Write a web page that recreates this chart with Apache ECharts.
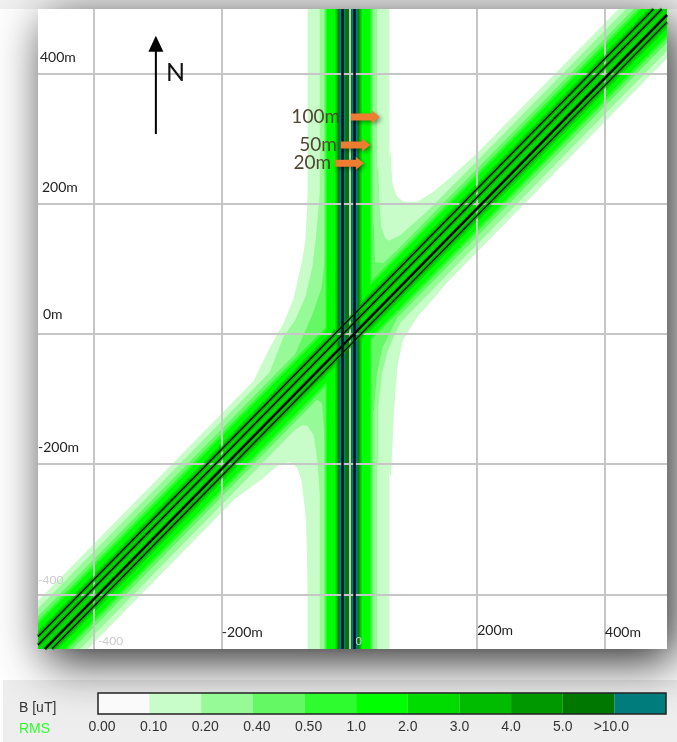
<!DOCTYPE html>
<html>
<head>
<meta charset="utf-8">
<title>B field</title>
<script src="https://cdn.jsdelivr.net/npm/echarts@6/dist/echarts.min.js"></script>
<style>
body { margin: 0; background: #fff; }
#main { width: 677px; height: 742px; }
</style>
</head>
<body>
<div id="main"></div>
<script>
// tick values in metres and the labels pasted on the map
const xTicks = [-400, -200, 0, 200, 400];
const xTickLabels = ['{f|-400}', '{m|-200m}', '{z|0}', '{h|200m}', '{m|400m}'];
const yTicks = [-400, -200, 0, 200, 400];
const yTickLabels = ['{f|-400}', '{d|-200m}', '{c|0m}', '{b|200m}', '{a|400m}'];
const xRange = [-487.5, 497];
const yRange = [-483.7, 499];

// colour scale
const legendLabels = ['{s|0.00}', '{s|0.10}', '{s|0.20}', '{s|0.40}', '{s|0.50}', '1.0', '2.0', '3.0', '4.0', '5.0', '{e|>10.0}'];
const legendColors = ['#fafafa', '#c8fcc8', '#96fa96', '#64f864', '#2efc2e', '#00ff00', '#00dc00', '#00bc00', '#009800', '#007800', '#007c7c'];

// half width of each contour band (m), one entry per colour from 0.10 up
const northLineWidths = [64, 45, 38, 36, 34, 21, 19, 17.5, 16, 14.5];
const diagLineWidths = [76, 64, 52, 45, 40, 30, 0, 0, 0, 0];
const diagOffset = 2;
const northOffset = -1.5;

// conductors, x offset for the N-S line and y offset for the diagonal one (m)
const northConductors = [-9.4, 9.4];
const diagConductors = [21, 8, -9, -20];
const diagConductorWidths = [1.1, 1.3, 2.2, 1.1];
const northCore = 5;

// contour outlines where the two corridors merge (m)
const paleFillets = [
  [[64, 282], [67, 233], [73, 213], [84, 203], [106, 203], [131, 218], [153, 236], [194, 272]],
  [[-65, -400], [-68, -286], [-75, -225], [-82, -205], [-93, -197], [-108, -199], [-140, -225], [-182, -255], [-194, -268]],
  [[-65, 220], [-69, 144], [-74, 113], [-80, 87], [-88, 52], [-103, 17], [-124, -20], [-150, -72]],
  [[65, -220], [69, -132], [72, -86], [76, -44], [84, -9], [106, 26], [127, 49], [150, 76]]
];
const midFillets = [
  [[45, 260], [47, 198], [50, 164], [56, 147], [62, 143], [80, 152], [128, 194], [174, 240]],
  [[-45, -260], [-51, -188], [-56, -155], [-66, -141], [-74, -140], [-90, -150], [-150, -198], [-176, -238]],
  [[-45, 230], [-53, 144], [-58, 103], [-69, 57], [-85, 21], [-103, -4], [-125, -59]],
  [[45, -200], [45, -112], [51, -60], [59, -29], [69, -5], [84, 26], [106, 47], [125, 63]]
];
const brightFillets = [
  [[38, 170], [40, 110], [53, 109], [72, 126]],
  [[-38, -170], [-43, -106], [-51, -101], [-64, -104], [-85, -129]],
  [[-38, 120], [-44, 70], [-58, 30], [-85, -31]],
  [[38, -120], [43, -60], [52, -20], [75, 25]]
];

// distance arrows (m)
const distLabels = ['100m', '50m', '20m'];
const distStart = [2.5, -13.5, -22.5];
const distEnd = [47.5, 32.5, 22.5];
const distY = [333, 290, 262];
const northArrowX = -303;
const northArrowY = [307, 458];

const far = 1200;
const shapes = [];
for (let i = 0; i < northLineWidths.length; i++) {
  const color = legendColors[i + 1];
  const w = northLineWidths[i];
  const d = diagLineWidths[i];
  shapes.push({ color: color, pts: [[northOffset - w, -far], [northOffset + w, -far], [northOffset + w, far], [northOffset - w, far]] });
  if (d > 0) {
    shapes.push({ color: color, pts: [[-far, -far + diagOffset + d], [far, far + diagOffset + d], [far, far + diagOffset - d], [-far, -far + diagOffset - d]] });
  }
  const fillets = [paleFillets, midFillets, brightFillets][i];
  if (fillets) {
    fillets.forEach(function (f) {
      shapes.push({ color: color, pts: [[0, diagOffset]].concat(f) });
    });
  }
}
shapes.push({ color: legendColors[9], pts: [[northOffset - northCore, -far], [northOffset + northCore, -far], [northOffset + northCore, far], [northOffset - northCore, far]] });

const myChart = echarts.init(document.getElementById('main'));

const lineSeries = [];
diagConductors.forEach(function (off, i) {
  // end the line where it leaves the map
  const c = diagOffset + off;
  const x0 = Math.max(xRange[0], yRange[0] - c);
  const x1 = Math.min(xRange[1], yRange[1] - c);
  const pts = [[x0, x0 + c], [x1, x1 + c]];
  lineSeries.push({ type: 'line', z: 4, silent: true, showSymbol: false, clip: true, data: pts, lineStyle: { color: '#00a000', width: 4, opacity: 0.7 } });
  lineSeries.push({ type: 'line', z: 5, silent: true, showSymbol: false, clip: true, data: pts, lineStyle: { color: '#000', width: diagConductorWidths[i] } });
});
northConductors.forEach(function (off) {
  lineSeries.push({ type: 'line', z: 5, silent: true, showSymbol: false, clip: true, data: [[northOffset + off, yRange[0]], [northOffset + off, yRange[1]]], lineStyle: { color: '#00101c', width: 2.5 } });
});

const option = {
  animation: false,
  textStyle: { fontFamily: 'Lato' },
  grid: [
    { left: 38, top: 9, width: 629, height: 640, z: 1 },
    { left: 98, top: 693, width: 568, height: 21, show: true, borderColor: '#222', borderWidth: 1.5, z: 6 }
  ],
  xAxis: [
    {
      type: 'value', min: xRange[0], max: xRange[1], z: 3, gridIndex: 0,
      axisLine: { show: false },
      axisTick: { show: false, customValues: xTicks },
      splitLine: { show: true, lineStyle: { color: '#c6c6c6', width: 2 } },
      axisLabel: {
        inside: true, align: 'left', margin: 0, customValues: xTicks, hideOverlap: false,
        formatter: function (v) { return xTickLabels[xTicks.indexOf(v)]; },
        rich: {
          m: { fontFamily: 'Lato', fontSize: 14, color: '#222', padding: [0, 0, 10, 0] },
          h: { fontFamily: 'Lato', fontSize: 14, color: '#222', padding: [0, 0, 12, 0] },
          f: { fontFamily: 'Lato', fontSize: 12, color: '#ccc', padding: [0, 0, 2, 4] },
          z: { fontFamily: 'Lato', fontSize: 11, color: '#ccc', padding: [0, 0, 2, 6] }
        }
      }
    },
    {
      type: 'value', min: 0, max: 11, interval: 1, gridIndex: 1,
      axisLine: { show: false }, axisTick: { show: false }, splitLine: { show: false },
      axisLabel: {
        margin: 6, fontFamily: 'Liberation Sans', fontSize: 14, color: '#333',
        showMinLabel: true, showMaxLabel: false, hideOverlap: false,
        formatter: function (v) { return legendLabels[v] || ''; },
        rich: {
          s: { fontFamily: 'Liberation Sans', fontSize: 14, color: '#333', padding: [0, 0, 0, 8] },
          e: { fontFamily: 'Liberation Sans', fontSize: 14, color: '#333', padding: [0, 6, 0, 0] }
        }
      }
    }
  ],
  yAxis: [
    {
      type: 'value', min: yRange[0], max: yRange[1], z: 3, gridIndex: 0,
      axisLine: { show: false },
      axisTick: { show: false, customValues: yTicks },
      splitLine: { show: true, lineStyle: { color: '#c6c6c6', width: 2 } },
      axisLabel: {
        inside: true, align: 'left', verticalAlign: 'bottom', margin: 0, customValues: yTicks, hideOverlap: false,
        formatter: function (v) { return yTickLabels[yTicks.indexOf(v)]; },
        rich: {
          a: { fontFamily: 'Lato', fontSize: 14, color: '#222', padding: [0, 0, 9, 2] },
          b: { fontFamily: 'Lato', fontSize: 14, color: '#222', padding: [0, 0, 9, 4] },
          c: { fontFamily: 'Lato', fontSize: 14, color: '#222', padding: [0, 0, 12, 5] },
          d: { fontFamily: 'Lato', fontSize: 14, color: '#222', padding: [0, 0, 10, 0] },
          f: { fontFamily: 'Lato', fontSize: 12, color: '#ccc', padding: [0, 0, 8, 0] }
        }
      }
    },
    { type: 'value', min: 0, max: 1, gridIndex: 1, show: false }
  ],
  graphic: [
    { type: 'rect', z: -3, silent: true, shape: { x: 0, y: 0, width: 677, height: 9 }, style: { fill: '#f0f0f0' } },
    { type: 'rect', z: -3, silent: true, shape: { x: 3, y: 680, width: 674, height: 62 }, style: { fill: '#eeeeee' } },
    {
      type: 'rect', z: -2, silent: true, shape: { x: 38, y: 9, width: 629, height: 640 },
      style: { fill: '#fff', shadowBlur: 45, shadowColor: 'rgba(0,0,0,0.85)', shadowOffsetX: 8, shadowOffsetY: 12 }
    },
    { type: 'text', z: 10, silent: true, x: 166, y: 60, style: { text: 'N', font: '25px Lato', fill: '#111' } },
    { type: 'text', z: 10, silent: true, x: 19, y: 701, style: { text: 'B [uT]', font: '14px "Liberation Sans"', fill: '#333' } },
    { type: 'text', z: 10, silent: true, x: 19, y: 722, style: { text: 'RMS', font: '14px "Liberation Sans"', fill: '#2cff2c' } }
  ],
  series: [
    {
      type: 'custom', z: 2, silent: true, clip: true, xAxisIndex: 0, yAxisIndex: 0,
      data: shapes.map(function () { return [0, 0]; }),
      renderItem: function (params, api) {
        const s = shapes[params.dataIndex];
        return {
          type: 'polygon',
          shape: { points: s.pts.map(function (p) { return api.coord(p); }) },
          style: { fill: s.color }
        };
      }
    }
  ].concat(lineSeries).concat([
    {
      // distance arrows and their labels
      type: 'custom', z: 8, silent: true, xAxisIndex: 0, yAxisIndex: 0,
      data: distLabels.map(function () { return [0, 0]; }),
      renderItem: function (params, api) {
        const i = params.dataIndex;
        const a = api.coord([distStart[i], distY[i]]);
        const b = api.coord([distEnd[i], distY[i]]);
        return {
          type: 'group',
          children: [
            {
              type: 'polygon',
              shape: { points: [[a[0], a[1] - 3.5], [b[0] - 8, a[1] - 3.5], [b[0] - 8, a[1] - 6.5], [b[0], a[1]], [b[0] - 8, a[1] + 6.5], [b[0] - 8, a[1] + 3.5], [a[0], a[1] + 3.5]] },
              style: { fill: '#ed7d31', shadowBlur: 4, shadowColor: 'rgba(0,0,0,0.4)', shadowOffsetX: 2, shadowOffsetY: 2 }
            },
            {
              type: 'text',
              x: a[0] - (i === 0 ? 11 : 4), y: a[1],
              style: { text: distLabels[i], font: '19px Lato', fill: '#4f4630', align: 'right', verticalAlign: 'middle' }
            }
          ]
        };
      }
    },
    {
      // north arrow
      type: 'custom', z: 8, silent: true, xAxisIndex: 0, yAxisIndex: 0,
      data: [[0, 0]],
      renderItem: function (params, api) {
        const a = api.coord([northArrowX, northArrowY[0]]);
        const b = api.coord([northArrowX, northArrowY[1]]);
        return {
          type: 'group',
          children: [
            { type: 'line', shape: { x1: a[0], y1: a[1], x2: b[0], y2: b[1] + 10 }, style: { stroke: '#000', lineWidth: 2 } },
            { type: 'polygon', shape: { points: [[b[0], b[1]], [b[0] + 7.5, b[1] + 16], [b[0] - 7.5, b[1] + 16]] }, style: { fill: '#000' } }
          ]
        };
      }
    },
    {
      // legend cells
      type: 'custom', z: 2, silent: true, xAxisIndex: 1, yAxisIndex: 1,
      data: legendColors.map(function (c, i) { return [i, 0]; }),
      renderItem: function (params, api) {
        const a = api.coord([api.value(0), 1]);
        const b = api.coord([api.value(0) + 1, 0]);
        return {
          type: 'rect',
          shape: { x: a[0], y: a[1], width: b[0] - a[0], height: b[1] - a[1] },
          style: { fill: legendColors[params.dataIndex] }
        };
      }
    }
  ])
};
myChart.setOption(option);
</script>
</body>
</html>
